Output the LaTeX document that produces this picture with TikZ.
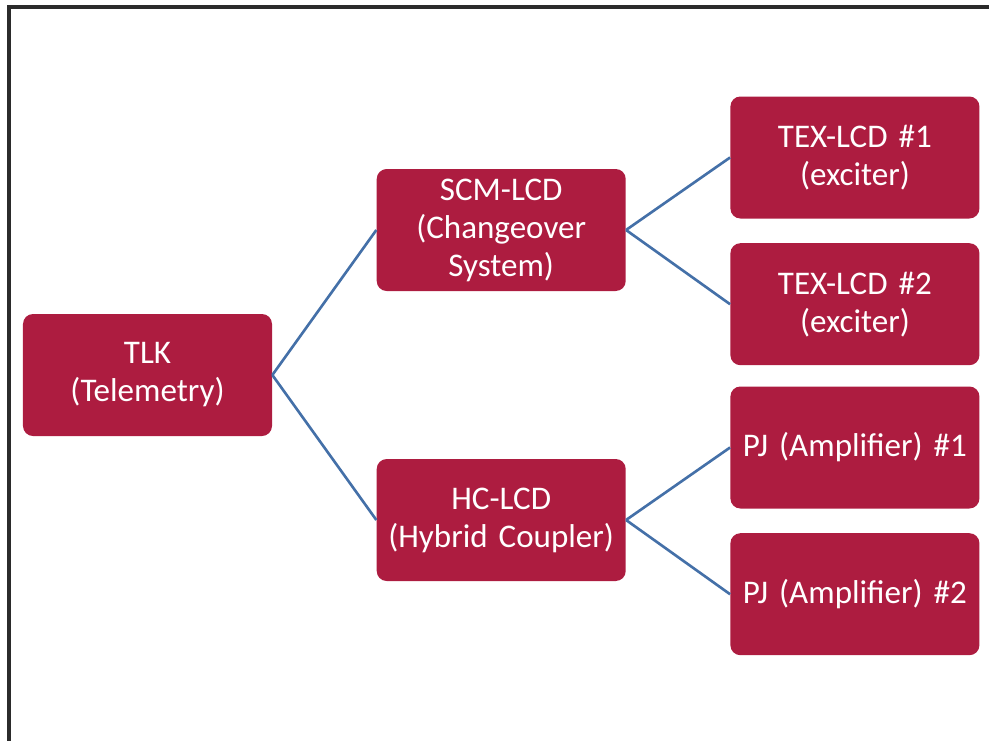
\documentclass[tikz,border=0pt]{standalone}
\usepackage{fontspec}
\setmainfont[WordSpace=0.8]{Carlito}
\usepackage{xcolor}
\usetikzlibrary{positioning}

\definecolor{boxred}{HTML}{AD1C40}
\definecolor{linkblue}{HTML}{4470A8}
\definecolor{framegray}{HTML}{2B2B2B}

\begin{document}
\begin{tikzpicture}[
    node distance=0.48cm and 2.08cm,
    box/.style={rectangle, fill=boxred, text=white, text width=4.7cm, align=center, rounded corners=0.2cm, minimum width=4.98cm, minimum height=2.44cm, inner sep=0pt, font=\fontsize{18.8}{21.6}\selectfont},
    link/.style={draw=linkblue, line width=1.5pt},
    frame/.style={draw=framegray, line width=2.2pt},
]
\useasboundingbox (-2.95,-7.3) rectangle (16.83,7.5);
\draw[frame] (16.9,7.36) -- (-2.77,7.36) -- (-2.77,-7.4);

\node[box] (tlk) at (0,0) {TLK\\(Telemetry)};
\node[box, right=of tlk, yshift=2.9cm] (scm) {SCM-LCD\\(Changeover\\System)};
\node[box, right=of tlk, yshift=-2.9cm] (hc) {HC-LCD\\(Hybrid Coupler)};
\node[box, right=of scm, yshift=1.45cm] (tex1) {TEX-LCD \#1\\(exciter)};
\node[box, below=of tex1] (tex2) {TEX-LCD \#2\\(exciter)};
\node[box, right=of hc, yshift=1.45cm] (pj1) {PJ (Amplifier) \#1};
\node[box, below=of pj1] (pj2) {PJ (Amplifier) \#2};

\draw[link] (tlk.east) -- (scm.west);
\draw[link] (tlk.east) -- (hc.west);
\draw[link] (scm.east) -- (tex1.west);
\draw[link] (scm.east) -- (tex2.west);
\draw[link] (hc.east) -- (pj1.west);
\draw[link] (hc.east) -- (pj2.west);
\end{tikzpicture}
\end{document}
